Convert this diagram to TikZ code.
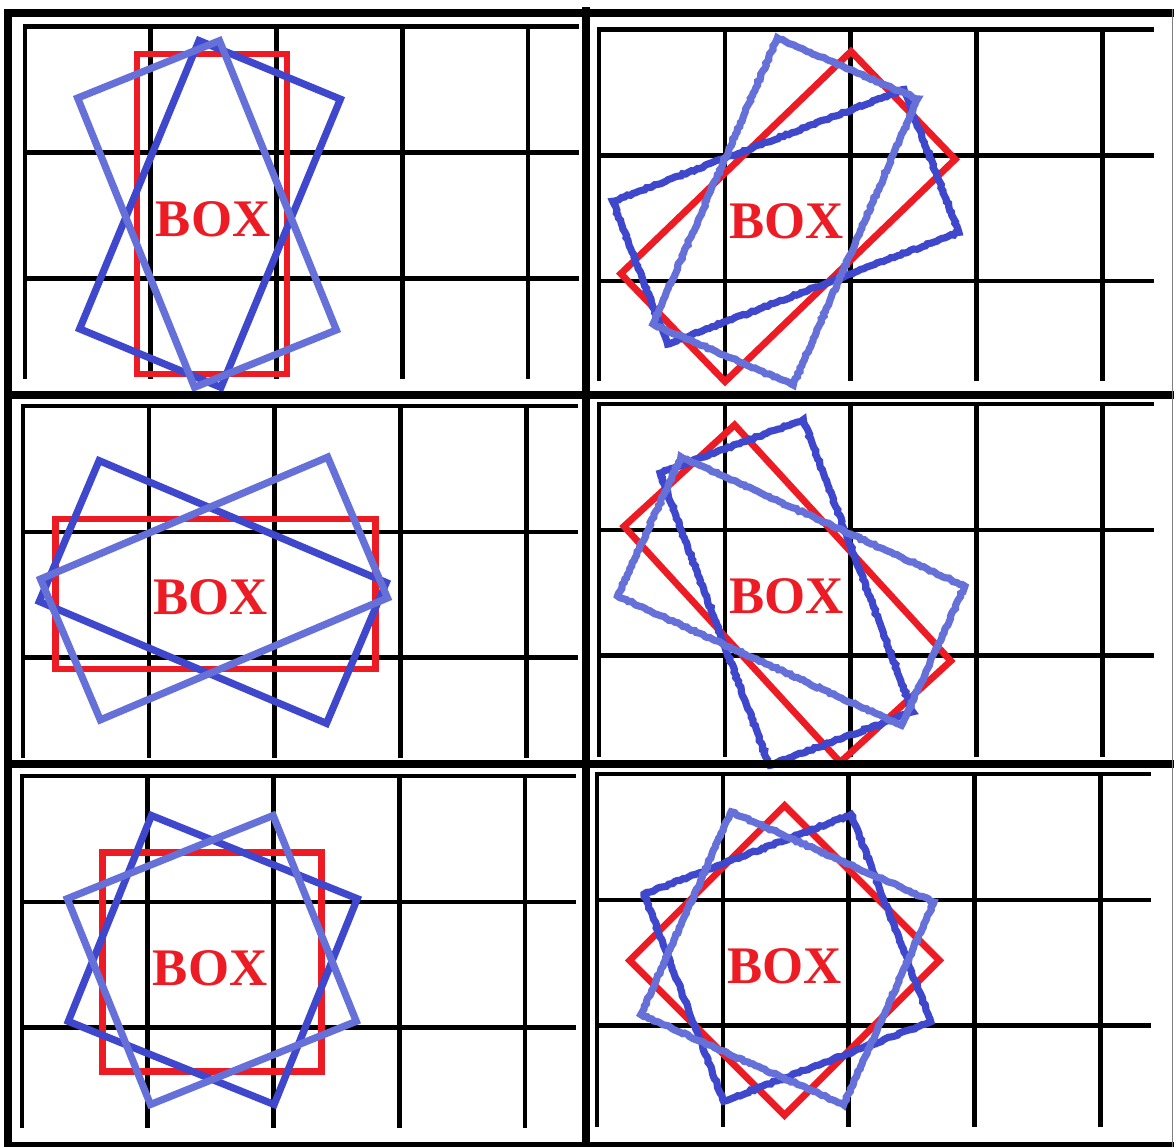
\documentclass[tikz,border=0pt]{standalone}
\usepackage{fontspec}
\setmainfont{Liberation Serif}
\usetikzlibrary{decorations.pathmorphing}
\definecolor{boxred}{HTML}{ED1C24}
\definecolor{darkblue}{HTML}{3F48CC}
\definecolor{lightblue}{HTML}{6570D9}
\tikzset{
  frameline/.style={line width=4pt, line cap=butt},
  gridline/.style={line width=2.3pt, line cap=butt},
  redbox/.style={draw=boxred, line width=3.4pt, line join=miter},
  dkbox/.style={draw=darkblue, line width=3.6pt, line join=miter},
  ltbox/.style={draw=lightblue, line width=3.6pt, line join=miter},
  rough/.style={decorate, decoration={random steps, segment length=1.5pt, amplitude=0.45pt}},
  boxtext/.style={text=boxred, font=\fontsize{26.4}{30}\selectfont\bfseries, inner sep=0pt}
}
% #1 style, #2 cx, #3 cy, #4 angle, #5 width, #6 height
\newcommand\rotbox[6]{%
  \begin{scope}[shift={(#2,#3)}, rotate=#4]
    \draw[#1] (-#5/2,-#6/2) -- (#5/2,-#6/2) -- (#5/2,#6/2) -- (-#5/2,#6/2) -- cycle;
  \end{scope}}
% grid: #1 x0, #2 y0, #3 xend, #4 yend
\newcommand\gridpanel[4]{%
  \foreach \i in {0,...,4} {\draw[gridline] ({#1+\i*125.8},{#2-2.3}) -- ({#1+\i*125.8},#4);}
  \foreach \j in {0,1,2} {\draw[gridline] ({#1-2.3},{#2+\j*125.8}) -- (#3,{#2+\j*125.8});}
}
\begin{document}
\begin{tikzpicture}[x=0.5pt,y=-0.5pt]
\useasboundingbox (0,0) rectangle (1174,1147);
\fill[white] (0,0) rectangle (1174,1147);

% grids
\gridpanel{24.9}{26.7}{579}{379}
\gridpanel{599}{29.5}{1154}{381}
\gridpanel{23}{406}{578}{758}
\gridpanel{599}{404}{1154}{757}
\gridpanel{21.8}{776}{576}{1128}
\gridpanel{597}{774}{1151}{1127}

% panel 1
\rotbox{redbox}{212}{214}{0}{150}{320}
\rotbox{dkbox}{210}{214}{-22.5}{153}{312}
\rotbox{ltbox}{207}{214}{22}{153}{312}
\node[boxtext] (box1) at (213,219) {BOX};

% panel 2
\rotbox{redbox}{788}{216.5}{-46}{150}{320}
\rotbox{dkbox,rough}{785.8}{216.8}{-69}{153}{312}
\rotbox{ltbox,rough}{785.3}{211.5}{-23.5}{153}{312}
\node[boxtext] (box2) at (786.4,220.8) {BOX};

% panel 3
\rotbox{redbox}{215.5}{594}{90}{150}{320}
\rotbox{dkbox}{212.8}{592}{67}{153}{312}
\rotbox{ltbox}{214}{588.5}{113}{153}{312}
\node[boxtext] (box3) at (210.5,597.5) {BOX};

% panel 4
\rotbox{redbox}{787.4}{593.6}{42.5}{150}{320}
\rotbox{dkbox,rough}{786.4}{592.5}{20.5}{153}{312}
\rotbox{ltbox,rough}{791.2}{591.1}{65.5}{153}{312}
\node[boxtext] (box4) at (786.4,595.8) {BOX};

% panel 5
\rotbox{redbox}{212}{962}{0}{219}{219}
\rotbox{dkbox}{212.8}{960}{-22}{222}{222}
\rotbox{ltbox}{211.8}{960}{22}{222}{222}
\node[boxtext] (box5) at (210,968.3) {BOX};

% panel 6
\rotbox{redbox}{784.5}{960.4}{45}{219}{219}
\rotbox{dkbox,rough}{787.4}{957.9}{21}{222}{222}
\rotbox{ltbox,rough}{787.4}{958.3}{-24}{222}{222}
\node[boxtext] (box6) at (784.5,965.8) {BOX};

% frame
\draw[frameline] (4,12.5) -- (1174,12.5);
\draw[frameline] (7.5,9) -- (7.5,1147);
\draw[frameline] (586,7) -- (586,1147);
\draw[frameline] (4,394.5) -- (1174,394.5);
\draw[frameline] (4,764) -- (1174,764);
\draw[frameline] (4,1145.5) -- (1174,1145.5);
\draw[gray, line width=0.6pt] (1172.5,9) -- (1172.5,1147);
\end{tikzpicture}
\end{document}
